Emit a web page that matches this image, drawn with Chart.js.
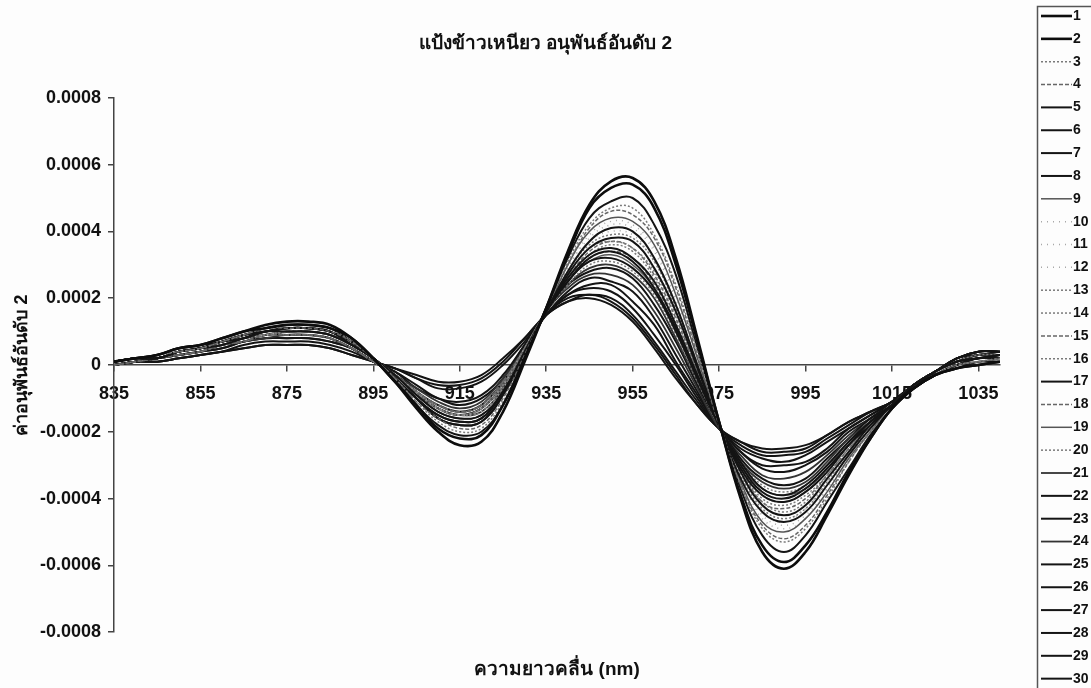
<!DOCTYPE html>
<html>
<head>
<meta charset="utf-8">
<script src="https://cdn.jsdelivr.net/npm/chart.js@4.4.1/dist/chart.umd.min.js"></script>
<style>
  html, body { margin: 0; padding: 0; background: #fff; }
  #wrap { width: 1091px; height: 688px; }
</style>
</head>
<body>
<div id="wrap"><canvas id="spectra" width="1091" height="688"></canvas></div>
<script>
// wavelengths (nm), every 5 nm
const wavelengths = [835, 840, 845, 850, 855, 860, 865, 870, 875, 880, 885, 890, 895, 900, 905, 910,
    915, 920, 925, 930, 935, 940, 945, 950, 955, 960, 965, 970, 975, 980, 985, 990, 995, 1000, 1005,
    1010, 1015, 1020, 1025, 1030, 1035, 1040];

const xTickLabels = [835, 855, 875, 895, 915, 935, 955, 975, 995, 1015, 1035];

// second derivative values, in units of 1e-5
const UNIT = 1e-5;
const sample01 = [1,2,3,5,6,8,10,12,13,13,12,8,2,-5,-13,-20,-24,-23,-14,1, 17,34,48,55,56,49,32,8,-17,-40,-56,-61,-56,-45,-33,-22,-13,-7,-3,-1,0,1];
const sample02 = [1,2,3,5,6,8,10,11,12,12,11,8,2,-5,-12,-19,-22,-21,-12,2, 17,33,47,53,54,47,30,7,-17,-39,-54,-59,-54,-44,-32,-22,-13,-7,-3,-1,0,1];
const sample03 = [1,2,3,4,5,7,9,11,12,12,11,7,2,-4,-11,-17,-20,-19,-11,2, 17,31,42,47,47,39,24,4,-17,-36,-49,-53,-49,-40,-29,-20,-13,-7,-3,0,1,2];
const sample04 = [1,2,3,4,5,7,9,11,11,11,10,7,2,-4,-11,-16,-19,-18,-10,3, 17,30,41,46,45,38,23,3,-18,-36,-48,-52,-48,-39,-29,-20,-13,-7,-3,0,1,2];
const sample05 = [1,2,2,4,5,7,9,10,11,11,10,7,2,-4,-10,-16,-18,-17,-9,3, 16,28,37,41,40,32,18,0,-18,-34,-44,-47,-44,-36,-27,-19,-12,-7,-3,0,2,2];
const sample06 = [1,2,2,4,5,7,8,10,11,11,10,6,2,-4,-10,-15,-17,-16,-8,3, 16,27,35,38,37,29,16,-1,-18,-32,-42,-45,-42,-34,-26,-18,-12,-7,-3,0,2,2];
const sample07 = [1,2,2,4,5,6,8,10,10,10,9,6,2,-3,-9,-14,-16,-15,-8,4, 16,26,33,35,32,25,12,-3,-18,-31,-39,-41,-38,-32,-24,-18,-12,-6,-2,1,2,3];
const sample08 = [1,2,2,4,5,7,9,10,11,11,10,7,2,-4,-10,-16,-18,-17,-9,3, 16,25,32,34,31,23,11,-4,-18,-30,-38,-40,-37,-31,-24,-17,-12,-6,-2,1,2,3];
const sample09 = [1,2,2,4,5,6,8,10,10,10,9,6,2,-3,-9,-14,-16,-15,-8,4, 16,30,40,44,43,36,21,2,-18,-35,-47,-50,-46,-38,-28,-20,-12,-7,-3,0,1,2];
const sample10 = [1,2,2,4,5,6,8,9,10,10,9,6,2,-3,-9,-13,-15,-14,-7,4, 16,29,39,43,42,35,20,2,-18,-35,-46,-49,-46,-37,-28,-19,-12,-7,-3,0,1,2];
const sample11 = [1,2,2,4,5,6,8,10,10,10,9,6,2,-3,-9,-14,-16,-15,-8,4, 16,29,38,42,41,34,19,1,-18,-34,-45,-48,-45,-37,-27,-19,-12,-7,-3,0,1,2];
const sample12 = [1,2,2,4,5,6,8,9,10,10,9,6,2,-3,-8,-13,-15,-13,-6,5, 16,28,37,40,39,31,18,0,-18,-33,-44,-47,-43,-35,-27,-19,-12,-7,-3,0,2,2];
const sample13 = [1,2,2,4,5,6,8,9,10,10,9,6,2,-3,-9,-13,-15,-14,-7,4, 16,28,36,39,38,31,17,0,-18,-33,-43,-46,-43,-35,-26,-19,-12,-7,-3,0,2,2];
const sample14 = [1,2,2,4,5,6,8,9,10,10,9,6,2,-3,-8,-13,-15,-13,-6,5, 16,27,35,37,35,28,15,-2,-18,-32,-41,-44,-41,-33,-25,-18,-12,-7,-3,0,2,2];
const sample15 = [0,1,2,3,4,6,7,9,9,9,8,5,1,-3,-8,-12,-14,-12,-5,5, 16,26,34,37,35,27,14,-2,-18,-31,-41,-43,-40,-33,-25,-18,-12,-6,-2,0,2,2];
const sample16 = [1,2,2,4,5,6,8,9,10,10,9,6,2,-3,-8,-13,-15,-13,-6,5, 16,26,33,36,34,26,13,-2,-18,-31,-40,-42,-39,-33,-25,-18,-12,-6,-2,1,2,3];
const sample17 = [1,2,2,4,5,7,8,10,11,11,10,6,2,-4,-10,-15,-17,-16,-8,3, 16,25,31,32,29,22,10,-4,-18,-29,-37,-39,-36,-30,-23,-17,-12,-6,-2,1,2,3];
const sample18 = [0,1,2,3,4,6,7,9,9,9,8,5,1,-3,-8,-12,-14,-12,-5,5, 16,26,32,34,32,24,12,-3,-18,-30,-39,-41,-38,-32,-24,-18,-12,-6,-2,1,2,3];
const sample19 = [1,2,2,4,5,6,8,9,10,10,9,6,2,-3,-8,-13,-15,-13,-6,5, 16,25,31,33,30,23,10,-4,-18,-30,-37,-39,-37,-31,-23,-17,-12,-6,-2,1,2,3];
const sample20 = [0,1,2,3,4,6,7,9,9,9,8,5,1,-3,-8,-12,-14,-12,-5,5, 16,24,30,31,28,21,9,-5,-18,-29,-36,-38,-36,-30,-23,-17,-12,-6,-2,1,3,3];
const sample21 = [1,2,2,4,5,6,8,9,10,10,9,6,2,-3,-9,-13,-15,-14,-7,4, 16,24,29,30,27,20,8,-5,-18,-29,-35,-37,-35,-29,-22,-17,-12,-6,-2,1,3,3];
const sample22 = [1,2,2,4,5,6,8,9,10,10,9,6,2,-3,-8,-13,-15,-13,-6,5, 16,24,28,29,26,18,7,-6,-18,-28,-34,-36,-34,-28,-22,-16,-12,-6,-2,1,3,3];
const sample23 = [1,2,3,5,6,7,9,11,12,12,11,7,2,-4,-12,-18,-21,-20,-12,2, 17,32,44,49,50,42,27,5,-17,-37,-51,-56,-51,-41,-31,-21,-13,-7,-3,-1,1,1];
const sample24 = [0,1,2,3,4,6,7,8,9,9,8,5,1,-3,-7,-11,-13,-11,-4,5, 16,23,27,27,24,16,5,-7,-19,-27,-33,-34,-32,-27,-21,-16,-12,-6,-2,1,3,3];
const sample25 = [0,1,2,3,4,6,7,9,9,9,8,5,1,-3,-8,-12,-14,-12,-5,5, 15,22,26,25,22,14,3,-8,-19,-26,-31,-32,-30,-26,-20,-16,-11,-6,-2,1,3,3];
const sample26 = [0,1,2,3,4,5,7,8,8,8,7,5,1,-2,-7,-10,-12,-10,-4,6, 15,21,24,24,19,12,1,-9,-19,-26,-30,-30,-29,-25,-19,-15,-11,-6,-2,2,3,4];
const sample27 = [0,1,2,3,4,5,7,8,8,8,7,5,1,-2,-6,-10,-11,-9,-3,6, 15,21,23,22,17,9,0,-10,-19,-25,-28,-29,-27,-23,-19,-15,-11,-6,-2,2,4,4];
const sample28 = [0,1,1,2,3,4,6,7,7,7,6,4,1,-1,-4,-7,-7,-5,0,7, 15,20,21,20,15,7,-2,-11,-19,-24,-27,-27,-26,-22,-18,-14,-11,-6,-2,2,4,4];
const sample29 = [0,1,1,2,3,4,5,6,6,6,5,3,1,-1,-3,-5,-5,-3,2,8, 15,19,20,18,13,5,-4,-12,-19,-23,-25,-25,-24,-21,-17,-14,-11,-6,-2,2,4,4];
const sample30 = [0,1,1,2,3,4,5,6,6,6,5,3,1,-1,-4,-6,-6,-4,1,8, 15,19,21,19,14,6,-3,-12,-19,-23,-26,-26,-25,-21,-17,-14,-11,-6,-2,2,4,4];

const samples = [sample01, sample02, sample03, sample04, sample05, sample06, sample07, sample08, sample09, sample10,
    sample11, sample12, sample13, sample14, sample15, sample16, sample17, sample18, sample19, sample20,
    sample21, sample22, sample23, sample24, sample25, sample26, sample27, sample28, sample29, sample30];

// line looks
const heavy = { color: '#0d0d0d', dash: [], width: 2.6 };
const solid = { color: '#141414', dash: [], width: 2 };
const darkSolid = { color: '#333', dash: [], width: 1.8 };
const greySolid = { color: '#555', dash: [], width: 1.5 };
const dotted = { color: '#7a7a7a', dash: [2, 2], width: 1.5 };
const dashed = { color: '#666', dash: [4, 2], width: 1.5 };
const sparse = { color: '#a8a8a8', dash: [1, 5], width: 1.5 };
const lineStyles = [heavy, heavy, dotted, dashed, solid, solid, solid, solid, greySolid, sparse,
    sparse, sparse, dotted, dotted, dashed, dotted, solid, dashed, greySolid, dotted,
    darkSolid, solid, solid, darkSolid, solid, solid, solid, solid, solid, solid];

const fontFamily = '"Liberation Sans", Arial, "Noto Sans", "DejaVu Sans", sans-serif';

const datasets = samples.map((values, i) => ({
    label: String(i + 1),
    data: values.map((v, j) => ({ x: wavelengths[j], y: v * UNIT })),
    borderColor: lineStyles[i].color,
    borderDash: lineStyles[i].dash,
    borderWidth: lineStyles[i].width,
    pointRadius: 0,
    fill: false,
    tension: 0.4
}));

// paper background
const paper = {
    id: 'paper',
    beforeDraw(chart) {
        const { ctx, width, height } = chart;
        ctx.save();
        ctx.fillStyle = '#fdfdfd';
        ctx.fillRect(0, 0, width, height);
        ctx.restore();
    }
};

// boxed key down the right edge
const sampleKey = {
    id: 'sampleKey',
    afterDraw(chart) {
        const { ctx } = chart;
        ctx.save();
        ctx.strokeStyle = '#555';
        ctx.lineWidth = 1.5;
        ctx.strokeRect(1037.5, 6.5, 80, 700);
        ctx.font = 'bold 14px ' + fontFamily;
        ctx.textBaseline = 'middle';
        ctx.textAlign = 'left';
        chart.data.datasets.forEach((ds, i) => {
            const y = 16 + i * 22.85;
            ctx.beginPath();
            ctx.setLineDash(ds.borderDash);
            ctx.strokeStyle = ds.borderColor;
            ctx.lineWidth = ds.borderWidth;
            ctx.moveTo(1041, y);
            ctx.lineTo(1072, y);
            ctx.stroke();
            ctx.setLineDash([]);
            ctx.fillStyle = '#111';
            ctx.fillText(ds.label, 1073, y);
        });
        ctx.restore();
    }
};

new Chart(document.getElementById('spectra'), {
    type: 'line',
    data: { datasets: datasets },
    plugins: [paper, sampleKey],
    options: {
        responsive: false,
        animation: false,
        layout: { padding: 0 },
        scales: {
            x: {
                type: 'linear',
                min: 835,
                max: 1040,
                position: { y: 0 },
                afterBuildTicks: scale => { scale.ticks = xTickLabels.map(v => ({ value: v })); },
                ticks: {
                    autoSkip: false,
                    maxRotation: 0,
                    padding: 12,
                    color: '#111',
                    font: { family: fontFamily, size: 18, weight: 'bold' },
                    callback: v => String(v)
                },
                grid: { drawOnChartArea: false, tickLength: 6, color: '#444', lineWidth: 1.5 },
                border: { color: '#444', width: 1.5 }
            },
            y: {
                min: -0.0008,
                max: 0.0008,
                afterFit: scale => { scale.width = 114; },
                ticks: {
                    stepSize: 0.0002,
                    padding: 7,
                    color: '#111',
                    font: { family: fontFamily, size: 18, weight: 'bold' },
                    callback: v => Math.abs(v) < 1e-12 ? '0' : v.toFixed(4)
                },
                grid: { drawOnChartArea: false, tickLength: 6, color: '#444', lineWidth: 1.5 },
                border: { color: '#444', width: 1.5 },
                title: {
                    display: true,
                    text: 'ค่าอนุพันธ์อันดับ 2',
                    color: '#111',
                    padding: { top: 11, bottom: 0 },
                    font: { family: fontFamily, size: 18, weight: 'bold' }
                }
            },
            // empty strip on the right that holds the key
            keySpace: {
                type: 'linear',
                position: 'right',
                afterFit: scale => { scale.width = 91; },
                ticks: { display: false },
                grid: { display: false },
                border: { display: false }
            }
        },
        plugins: {
            legend: { display: false },
            tooltip: { enabled: false },
            title: {
                display: true,
                text: 'แป้งข้าวเหนียว อนุพันธ์อันดับ 2',
                color: '#111',
                padding: { top: 32, bottom: 43 },
                font: { family: fontFamily, size: 19, weight: 'bold' }
            },
            subtitle: {
                display: true,
                position: 'bottom',
                fullSize: false,
                text: 'ความยาวคลื่น (nm)',
                color: '#111',
                padding: { top: 26, bottom: 7 },
                font: { family: fontFamily, size: 19, weight: 'bold' }
            }
        }
    }
});
</script>
</body>
</html>
